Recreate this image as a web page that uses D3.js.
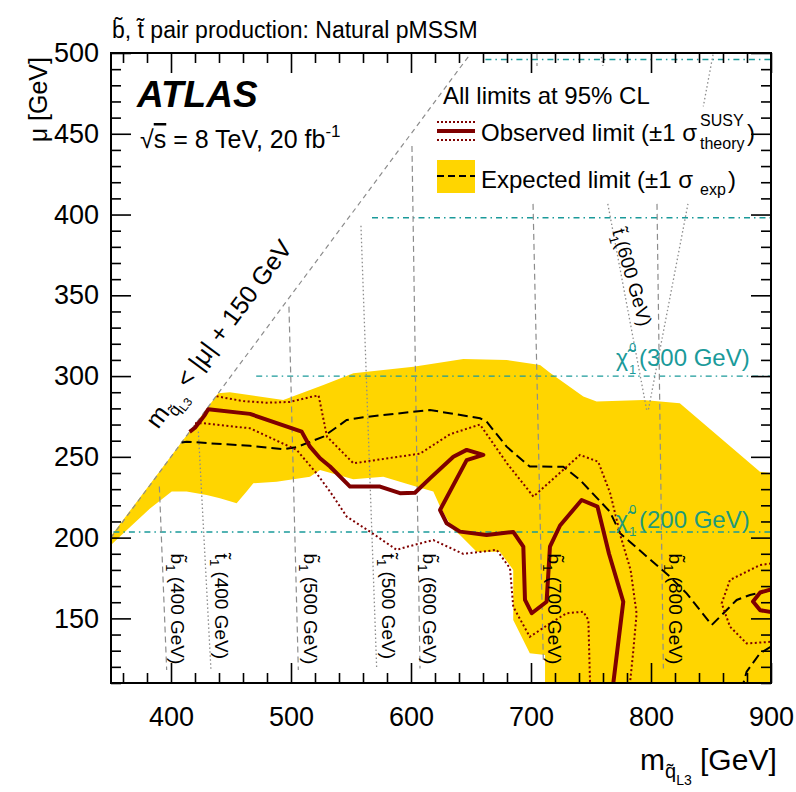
<!DOCTYPE html>
<html><head><meta charset="utf-8">
<script src="https://cdn.jsdelivr.net/npm/d3@7"></script>
<style>
body{margin:0;background:#fff}
text{font-family:"Liberation Sans",Arial,Helvetica,sans-serif;fill:#000}
</style>
</head><body>
<svg id="c" width="796" height="792"></svg>
<script>
// ---------------- data ----------------
const xMajorTicks=[400,500,600,700,800,900];
const yMajorTicks=[150,200,250,300,350,400,450,500];
const xMinorTicks=d3.range(360,901,20).filter(v=>v%100!==0);
const yMinorTicks=d3.range(110,501,10).filter(v=>v%50!==0);

// expected limit +-1 sigma band (m_q, mu)
const expBand=[[350,201],[439.4,289.4],[449,290],[493.6,285.2],[527,294.5],[552,301.7],[602,305.8],[643.6,310.6],[679.7,310],[707.5,306.9],[715.8,302],[743.6,287.3],[754.7,284.2],[793.6,285.2],[824,283.2],[890.8,240.8],[900,240],[900,110],[711.7,110],[711.7,127.3],[699,128.4],[685.2,149],[685.2,180],[674,191.3],[654.7,191.3],[640.8,201.6],[635.3,204.7],[624.2,219.2],[618.6,228.5],[604.7,231.5],[576.9,237.7],[551.9,236.1],[524.2,241.9],[515.8,237.7],[488,234.6],[468.6,233.7],[463,228.5],[454.7,221.3],[440.8,224.4],[429.7,226.4],[413,228.5],[400.6,228.5],[382.5,218],[365,206],[350,195.4]];
// expected limit
const expLine=[[408.9,258.9],[413,259.4],[432.5,258.4],[465.8,256.8],[493.6,254.7],[504.7,256],[527,262.5],[546.4,272.8],[560.3,274.5],[615.8,279],[657.5,273.9],[663,271.8],[679.7,256.3],[699,244],[726.9,243.9],[740.8,235.7],[765.8,216],[774.2,202.7],[815.8,175.8],[829.7,165.5],[850.6,145.9],[863.1,155.2],[871.4,161.4],[882.5,164.5],[900,167.6]];
const expLine2=[[900,132.5],[890.8,128.4],[879.7,117],[877,110]];
// observed limit
const obsLine=[[415.5,265.5],[420,268],[428.3,276],[431,279.5],[465.8,276.6],[508.9,265.6],[515.8,256.3],[524.2,249.1],[532.5,244],[549.2,231.6],[574.2,231.6],[590.8,227.5],[603.3,227.8],[615.8,236.7],[635.3,250.1],[646.4,254.3],[660.3,251.2],[646.4,248],[624.2,217.1],[629.7,208.9],[640.8,203.7],[663,201.6],[685.2,203.5],[693.6,194.4],[695,161.4],[700.6,153.2],[713,160.3],[715.8,194.4],[724.2,207.5],[742.2,223.3],[755.4,219.2],[765,190],[776.9,160.3],[768.6,110]];
const obsLoop=[[900,168],[891,166],[885,160.5],[891,155],[900,154]];
// observed +1 sigma theory
const obsUp=[[438,287.5],[460,284.5],[480,283.5],[499,284],[516,287],[523,288],[530,262.5],[552,246],[607.5,252],[632.5,264],[657.5,270],[680,246],[702,225.4],[740.8,251.2],[756,247],[766,227.5],[775,200],[783,180],[788,153],[785,128],[782.5,110]];
const obsUpLoop=[[900,184],[890.8,183],[865.8,173.8],[858.9,159.3],[865.8,144.9],[879.7,134.5],[900,135.5]];
// observed -1 sigma theory
const obsDown=[[420,270.8],[427,270.8],[465.8,267.7],[504.7,254.3],[521.4,239.7],[532.5,228.5],[546.4,213],[565.8,203.7],[588.1,192.4],[595,194],[618.6,198.5],[643.6,189.9],[671.4,192.4],[682.5,181],[685.2,157.2],[699,138.6],[715.8,146.9],[729.7,153.2],[743.6,154.1],[747.8,149],[749.2,110]];
// kinematic boundary m_q = |mu| + 150
const diagLine=[[350,200],[650,500]];
// neutralino mass contours
const chiLines=[[[352,203.5],[900,203.5]],[[471,300],[900,300]],[[567.5,398],[900,398]],[[662,496],[900,496]]];
// sbottom mass contours (dashed)
const sbLines=[[[390.3,231.6],[396.4,118]],[[498.3,343],[506.1,118]],[[600.8,442.5],[607.5,119]],[[701.7,406.6],[710.3,123]],[[705,500],[705,492]],[[805,406.6],[810.3,119]]];
// stop mass contours (dotted)
const stLines=[[[422.8,265.6],[433.3,118]],[[558.3,393],[571.4,119]],[[764,406.6],[796.4,279],[797.8,279],[830.8,406.6]],[[851.7,499],[843.6,467]],[[758,500],[760,492]]];
const massLabels=[
 {sq:"b",val:"400",m:400,mu:200},{sq:"t",val:"400",m:437,mu:200},
 {sq:"b",val:"500",m:511,mu:200},{sq:"t",val:"500",m:576,mu:200},
 {sq:"b",val:"600",m:610,mu:200},{sq:"b",val:"700",m:714,mu:200},
 {sq:"b",val:"800",m:815,mu:200}];

// ---------------- scales ----------------
const svg=d3.select("#c");
const x=d3.scaleLinear().domain([350,900]).range([111,771]);
const y=d3.scaleLinear().domain([110,500]).range([683,53]);
const line=d3.line().x(d=>x(d[0])).y(d=>y(d[1]));
const F='"Liberation Sans",Arial,Helvetica,sans-serif';
const RED="#7f0000", YEL="#FFD500", TEAL="#1a9a9a", GREY="#8c8c8c";

svg.append("defs").append("clipPath").attr("id","pc").append("rect")
 .attr("x",x(350)).attr("y",y(500)).attr("width",x(900)-x(350)).attr("height",y(110)-y(500));
const g=svg.append("g").attr("clip-path","url(#pc)");

g.append("path").attr("d",line(expBand)+"Z").attr("fill",YEL);

chiLines.forEach(l=>g.append("path").attr("d",line(l)).attr("fill","none")
 .attr("stroke",TEAL).attr("stroke-width",1.4).attr("stroke-dasharray","6,4,1.5,4"));
g.append("path").attr("d",line(diagLine)).attr("fill","none").attr("stroke",GREY).attr("stroke-width",1.2).attr("stroke-dasharray","5,4");
sbLines.forEach(l=>g.append("path").attr("d",line(l)).attr("fill","none")
 .attr("stroke",GREY).attr("stroke-width",1.2).attr("stroke-dasharray","6,4"));
stLines.forEach(l=>g.append("path").attr("d",line(l)).attr("fill","none")
 .attr("stroke",GREY).attr("stroke-width",1.3).attr("stroke-dasharray","1.5,2.5"));

[expLine,expLine2].forEach(l=>g.append("path").attr("d",line(l)).attr("fill","none")
 .attr("stroke","#000").attr("stroke-width",2).attr("stroke-dasharray","10,5"));
[obsUp,obsUpLoop,obsDown].forEach(l=>g.append("path").attr("d",line(l)).attr("fill","none")
 .attr("stroke",RED).attr("stroke-width",2).attr("stroke-dasharray","2,2.5"));
[obsLine,obsLoop].forEach(l=>g.append("path").attr("d",line(l)).attr("fill","none")
 .attr("stroke",RED).attr("stroke-width",4).attr("stroke-linejoin","round"));

// mass labels
massLabels.forEach(d=>{
  const t=svg.append("text").attr("transform",`translate(${x(d.m)},${y(d.mu)+16}) rotate(90)`)
   .attr("font-size",19);
  t.append("tspan").text(d.sq+"\u0303");
  t.append("tspan").attr("font-size",13).attr("dy",5).text("1");
  t.append("tspan").attr("dy",-5).text(" ("+d.val+" GeV)");
});
{
  const t=svg.append("text").attr("transform",`translate(612,231) rotate(74)`).attr("font-size",19);
  t.append("tspan").text("t\u0303");
  t.append("tspan").attr("font-size",13).attr("dy",5).text("1");
  t.append("tspan").attr("dy",-5).text("(600 GeV)");
}
// neutralino labels
[{v:"300",mu:306,c:TEAL},{v:"200",mu:206,c:"#1f9a7a"}].forEach(d=>{
  const yy=y(d.mu), x0=616;
  svg.append("text").attr("x",x0).attr("y",yy).attr("font-size",23).style("fill",d.c).text("\u03c7\u0303");
  svg.append("text").attr("x",x0+13).attr("y",yy-14).attr("font-size",13).style("fill",d.c).text("0");
  svg.append("text").attr("x",x0+13).attr("y",yy+8).attr("font-size",13).style("fill",d.c).text("1");
  svg.append("text").attr("x",x0+23).attr("y",yy).attr("font-size",24).style("fill",d.c).text("("+d.v+" GeV)");
});
// diagonal label
{
  const ang=-Math.atan2(y(200)-y(300),x(450)-x(350))*180/Math.PI;
  const t=svg.append("text").attr("transform",`translate(158,430) rotate(${ang})`).attr("font-size",25);
  t.append("tspan").text("m");
  t.append("tspan").attr("font-size",17).attr("dy",7).text("q\u0303");
  t.append("tspan").attr("font-size",12).attr("dy",4).text("L3");
  t.append("tspan").attr("dy",-11).text("   < |\u03bc| + 150 GeV");
}

// ---------------- axes ----------------
function clean(s){s.select(".domain").remove();s.selectAll(".tick line").attr("stroke","#000").attr("stroke-width",1.6);}
const fmt=d3.format("d");
svg.append("g").attr("transform",`translate(0,${y(110)})`)
 .call(d3.axisBottom(x).tickValues(xMajorTicks).tickSize(-20).tickPadding(24).tickFormat(fmt)).call(clean);
svg.append("g").attr("transform",`translate(0,${y(110)})`)
 .call(d3.axisBottom(x).tickValues(xMinorTicks).tickSize(-10).tickFormat("")).call(clean);
svg.append("g").attr("transform",`translate(0,${y(500)})`)
 .call(d3.axisTop(x).tickValues(xMajorTicks).tickSize(-20).tickFormat("")).call(clean);
svg.append("g").attr("transform",`translate(0,${y(500)})`)
 .call(d3.axisTop(x).tickValues(xMinorTicks).tickSize(-10).tickFormat("")).call(clean);
svg.append("g").attr("transform",`translate(${x(350)},0)`)
 .call(d3.axisLeft(y).tickValues(yMajorTicks).tickSize(-20).tickPadding(12).tickFormat(fmt)).call(clean);
svg.append("g").attr("transform",`translate(${x(350)},0)`)
 .call(d3.axisLeft(y).tickValues(yMinorTicks).tickSize(-10).tickFormat("")).call(clean);
svg.append("g").attr("transform",`translate(${x(900)},0)`)
 .call(d3.axisRight(y).tickValues(yMajorTicks).tickSize(-20).tickFormat("")).call(clean);
svg.append("g").attr("transform",`translate(${x(900)},0)`)
 .call(d3.axisRight(y).tickValues(yMinorTicks).tickSize(-10).tickFormat("")).call(clean);
svg.selectAll(".tick text").attr("font-family",F).attr("font-size",27).style("fill","#000");
svg.append("rect").attr("x",x(350)).attr("y",y(500)).attr("width",x(900)-x(350)).attr("height",y(110)-y(500))
 .attr("fill","none").attr("stroke","#000").attr("stroke-width",2);

// axis titles
{
  const t=svg.append("text").attr("transform","translate(47,57) rotate(-90)").attr("text-anchor","end").attr("font-size",25);
  t.text("\u03bc [GeV]");
  const tx=svg.append("text").attr("x",640).attr("y",770).attr("font-size",30);
  tx.append("tspan").text("m");
  tx.append("tspan").attr("font-size",20).attr("dy",8).text("q\u0303");
  tx.append("tspan").attr("font-size",14).attr("dy",7).text("L3");
  tx.append("tspan").attr("dy",-15).text("  [GeV]");
}
// title & labels
{
  const t=svg.append("text").attr("x",112).attr("y",38).attr("font-size",23);
  t.text("b\u0303, t\u0303 pair production: Natural pMSSM");
  svg.append("text").attr("x",137).attr("y",107).attr("font-size",37).attr("font-weight","bold").attr("font-style","italic").text("ATLAS");
  const s=svg.append("text").attr("x",140).attr("y",148).attr("font-size",25);
  s.append("tspan").text("\u221a");
  s.append("tspan").style("text-decoration","overline").text("s");
  s.append("tspan").text(" = 8 TeV, 20 fb");
  s.append("tspan").attr("font-size",17).attr("dy",-11).text("-1");
}
// legend
{
  svg.append("text").attr("x",443).attr("y",104).attr("font-size",24).text("All limits at 95% CL");
  [122,140].forEach(yy=>svg.append("line").attr("x1",437).attr("x2",475).attr("y1",yy).attr("y2",yy)
    .attr("stroke",RED).attr("stroke-width",2).attr("stroke-dasharray","2,2"));
  svg.append("line").attr("x1",437).attr("x2",475).attr("y1",131).attr("y2",131).attr("stroke",RED).attr("stroke-width",4);
  svg.append("text").attr("x",481).attr("y",141).attr("font-size",24).text("Observed limit (\u00b11 \u03c3");
  svg.append("text").attr("x",700).attr("y",126).attr("font-size",16).text("SUSY");
  svg.append("text").attr("x",700).attr("y",149).attr("font-size",16).text("theory");
  svg.append("text").attr("x",747).attr("y",141).attr("font-size",24).text(")");
  svg.append("rect").attr("x",437).attr("y",160).attr("width",38).attr("height",33).attr("fill",YEL);
  svg.append("line").attr("x1",437).attr("x2",475).attr("y1",176).attr("y2",176).attr("stroke","#000").attr("stroke-width",2).attr("stroke-dasharray","7,4");
  svg.append("text").attr("x",481).attr("y",188).attr("font-size",24).text("Expected limit (\u00b11 \u03c3");
  svg.append("text").attr("x",700).attr("y",195).attr("font-size",16).text("exp");
  svg.append("text").attr("x",728).attr("y",188).attr("font-size",24).text(")");
}
</script>
</body></html>
